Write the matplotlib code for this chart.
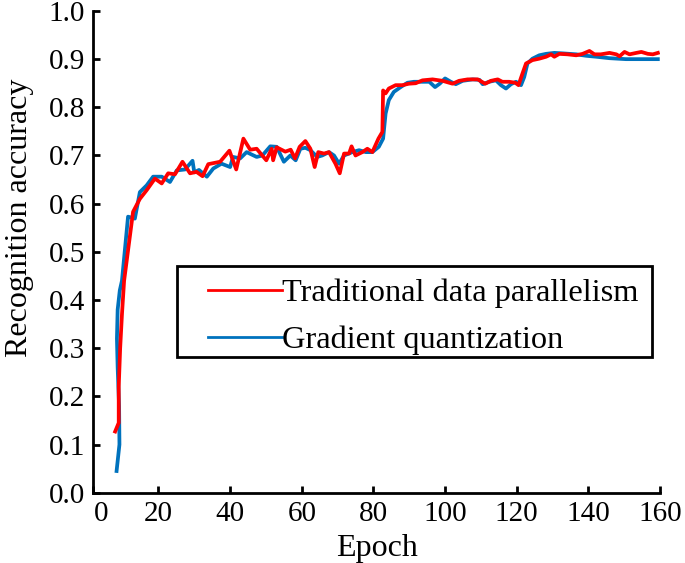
import matplotlib
matplotlib.use('Agg')
import matplotlib.pyplot as plt
import matplotlib.transforms as mtransforms
from matplotlib.patches import Rectangle
import numpy as np

plt.rcParams['font.family'] = ['Liberation Serif', 'DejaVu Serif']

# red curve: traditional data parallelism
trad_epoch = [7.9, 8.9, 8.9, 9.3, 9.8, 10.4, 12.9, 14.8, 16.7, 19.0, 20.9, 22.7, 24.6,
              26.7, 28.8, 30.6, 32.3, 33.9, 37.2, 39.8, 41.7, 43.7, 45.6, 47.4, 50.1,
              51.6, 52.0, 53.0, 55.4, 56.9, 58.1, 59.4, 61.0, 62.4, 63.6, 64.6, 66.2,
              67.6, 69.4, 70.6, 71.8, 73.2, 73.9, 75.0, 76.9, 78.3, 79.7, 81.4, 82.5,
              82.7, 83.4, 84.3, 86.2, 88.1, 89.9, 91.8, 93.7, 96.5, 99.3, 102.1, 103.9,
              106.3, 109.1, 111.2, 112.8, 114.7, 116.0, 117.9, 119.6, 120.5, 121.6,
              122.6, 124.4, 126.3, 128.2, 129.6, 130.5, 131.9, 134.2, 136.6, 138.4,
              140.3, 141.7, 143.5, 145.9, 147.8, 148.7, 150.1, 151.5, 153.4, 154.8,
              156.6, 158.0, 159.4]
trad_acc = [0.127, 0.145, 0.22, 0.30, 0.37, 0.44, 0.583, 0.61, 0.628, 0.652, 0.642, 0.663,
            0.661, 0.687, 0.663, 0.666, 0.657, 0.682, 0.687, 0.71, 0.671, 0.735, 0.712,
            0.714, 0.690, 0.714, 0.69, 0.717, 0.708, 0.712, 0.694, 0.718, 0.730, 0.714,
            0.676, 0.707, 0.704, 0.707, 0.683, 0.663, 0.704, 0.704, 0.719, 0.70, 0.707,
            0.714, 0.707, 0.735, 0.749, 0.835, 0.829, 0.839, 0.846, 0.846, 0.849, 0.850,
            0.856, 0.858, 0.855, 0.849, 0.855, 0.858, 0.858, 0.849, 0.855, 0.858, 0.853,
            0.853, 0.851, 0.846, 0.870, 0.891, 0.898, 0.901, 0.905, 0.910, 0.905, 0.911,
            0.910, 0.908, 0.911, 0.917, 0.910, 0.910, 0.913, 0.910, 0.906, 0.915, 0.910,
            0.913, 0.915, 0.911, 0.910, 0.913]

# blue curve: gradient quantization
quant_epoch = [8.3, 9.1, 9.0, 8.6, 8.4, 8.6, 9.2, 9.8, 11.5, 13.4, 14.8, 16.7, 18.5, 20.9,
               23.2, 25.1, 27.4, 29.5, 30.0, 31.3, 33.5, 35.3, 37.6, 40.0, 40.8, 42.8,
               44.6, 47.4, 49.0, 51.2, 53.0, 55.0, 56.8, 58.3, 59.6, 61.0, 62.4, 64.3,
               65.7, 67.6, 69.0, 70.4, 71.8, 74.1, 76.0, 77.9, 79.7, 81.5, 82.7, 83.4,
               84.3, 85.7, 87.6, 89.5, 91.3, 93.7, 95.6, 97.2, 98.5, 100.0, 101.6, 103.0,
               104.9, 107.7, 109.6, 110.5, 112.3, 114.2, 115.6, 117.0, 118.4, 119.8,
               121.2, 122.1, 123.0, 124.4, 126.3, 128.2, 130.5, 132.8, 136.6, 139.4,
               142.2, 145.9, 150.5, 155.2, 159.4]
quant_acc = [0.045, 0.10, 0.18, 0.26, 0.32, 0.38, 0.42, 0.44, 0.573, 0.569, 0.624, 0.638,
             0.656, 0.656, 0.645, 0.669, 0.671, 0.689, 0.665, 0.67, 0.656, 0.673, 0.683,
             0.676, 0.697, 0.694, 0.707, 0.697, 0.70, 0.719, 0.718, 0.687, 0.70, 0.69,
             0.714, 0.716, 0.711, 0.697, 0.70, 0.707, 0.70, 0.683, 0.70, 0.707, 0.711,
             0.707, 0.707, 0.718, 0.735, 0.787, 0.815, 0.832, 0.842, 0.851, 0.853, 0.853,
             0.853, 0.842, 0.849, 0.86, 0.853, 0.848, 0.855, 0.858, 0.857, 0.848, 0.853,
             0.856, 0.846, 0.839, 0.848, 0.853, 0.846, 0.863, 0.891, 0.901, 0.908, 0.911,
             0.913, 0.912, 0.910, 0.907, 0.905, 0.902, 0.900, 0.900, 0.900]

x_ticks = [1.8, 20, 40, 60, 80, 100, 120, 140, 160]
x_labels = ['0', '20', '40', '60', '80', '100', '120', '140', '160']
y_ticks = np.arange(0, 1.01, 0.1)

fig = plt.figure(figsize=(6.85, 5.63), dpi=100)
ax = fig.add_axes([0.1362, 0.1249, 0.8273, 0.8556])

lq, = ax.plot(quant_epoch, quant_acc, color='#0072BD', lw=2.7, label='Gradient quantization')
lt, = ax.plot(trad_epoch, trad_acc, color='#FF0000', lw=2.7, label='Traditional data parallelism')

ax.set_xlim(1.8, 160)
ax.set_ylim(0, 1.0)
ax.set_xticks(x_ticks, x_labels)
ax.set_yticks(y_ticks, ['%.1f' % v for v in y_ticks])
for s in ('top', 'right'):
    ax.spines[s].set_visible(False)
for s in ('left', 'bottom'):
    ax.spines[s].set_linewidth(2)
ax.tick_params(direction='in', length=5, width=2, labelsize=21, pad=6)

# the "0" label sits a little right of the axis corner
lbl = ax.get_xticklabels()[0]
lbl.set_transform(lbl.get_transform() + mtransforms.ScaledTranslation(8 / 100, 0, fig.dpi_scale_trans))

ax.set_xlabel('Epoch', fontsize=23, labelpad=5)
ax.set_ylabel('Recognition accuracy', fontsize=23)
ax.yaxis.set_label_coords(-0.105, 0.57)

# legend box drawn separately so the padding matches
ax.add_patch(Rectangle((0.148, 0.281), 0.838, 0.190, transform=ax.transAxes,
                       facecolor='white', edgecolor='black', lw=2, zorder=4, clip_on=False))
leg = ax.legend(handles=[lt, lq], loc='center left', bbox_to_anchor=(0.2024, 0.365),
                fontsize=23.3, frameon=False, handlelength=2.28, handletextpad=0.02,
                borderpad=0, labelspacing=0.53, borderaxespad=0)
leg.set_zorder(5)
for ln in leg.get_lines():
    ln.set_linewidth(2)

plt.savefig('out.png', dpi=100)
